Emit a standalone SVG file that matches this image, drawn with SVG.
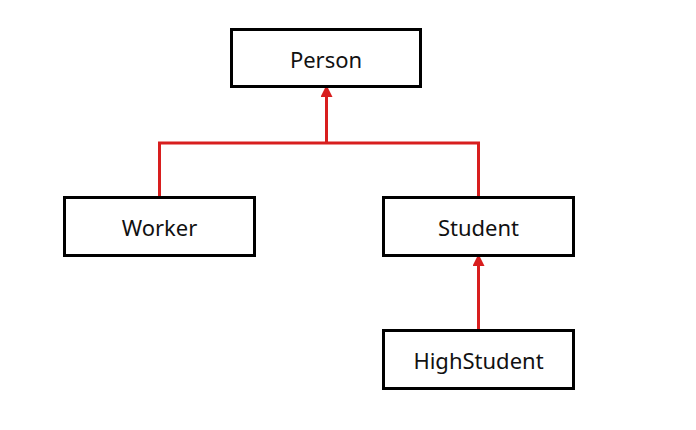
<svg xmlns="http://www.w3.org/2000/svg" width="696" height="430" viewBox="0 0 696 430">
<style>
.box{fill:#fff;stroke:#000;stroke-width:3}
.lbl{font-family:"Noto Sans","Open Sans",sans-serif;font-size:22px;fill:#111;text-anchor:middle;dominant-baseline:central}
.con{fill:none;stroke:#d81e1e;stroke-width:3}
</style>
<defs>
<marker id="ah" markerWidth="4" markerHeight="4" refX="3" refY="2" orient="auto" markerUnits="strokeWidth">
<path d="M0,0 L4,2 L0,4 z" fill="#d81e1e"/>
</marker>
</defs>
<rect width="696" height="430" fill="#fff"/>
<g id="connectors">
<path class="con" d="M159.5,196 V143 H478.5 V196"/>
<path class="con" d="M326.5,143 V88" marker-end="url(#ah)"/>
<path class="con" d="M478.5,329 V257" marker-end="url(#ah)"/>
</g>
<g id="person"><rect class="box" x="231.5" y="29.5" width="189" height="57"/><text class="lbl" x="326" y="59">Person</text></g>
<g id="worker"><rect class="box" x="64.5" y="197.5" width="190" height="58"/><text class="lbl" x="159.5" y="227">Worker</text></g>
<g id="student"><rect class="box" x="383.5" y="197.5" width="190" height="58"/><text class="lbl" x="478.5" y="227">Student</text></g>
<g id="highstudent"><rect class="box" x="383.5" y="330.5" width="190" height="58"/><text class="lbl" x="478.5" y="360">HighStudent</text></g>
</svg>
